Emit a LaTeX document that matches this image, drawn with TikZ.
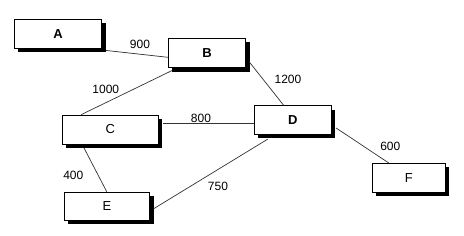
\documentclass[tikz,border=0pt]{standalone}
\usepackage{fontspec}
\setmainfont{Liberation Sans}
\usetikzlibrary{shadows}
\begin{document}
\begin{tikzpicture}[x=1pt,y=-1pt,
  box/.style={draw=black, line width=0.8pt, fill=white, inner sep=0pt,
    drop shadow={shadow xshift=4pt, shadow yshift=-4pt, fill=black, opacity=1},
    font=\fontsize{13}{15}\selectfont},
  boldbox/.style={box, font=\fontsize{13}{15}\selectfont\bfseries},
  edge/.style={draw=black!80, line width=0.7pt},
  lbl/.style={font=\fontsize{12}{14}\selectfont, inner sep=0pt}]
\useasboundingbox (0,0) rectangle (464,236);
\fill[white] (0,0) rectangle (464,236);
\node[boldbox, minimum width=87.4pt, minimum height=29pt] (A) at (58,33.8) {A};
\node[boldbox, minimum width=77.4pt, minimum height=29.4pt] (B) at (207,53) {B};
\node[box, minimum width=96pt, minimum height=29pt] (C) at (110.3,129.5) {C};
\node[boldbox, minimum width=77pt, minimum height=28.3pt] (D) at (292.8,119.9) {D};
\node[box, minimum width=85.4pt, minimum height=28.3pt] (E) at (107,206.2) {E};
\node[box, minimum width=73pt, minimum height=28.7pt] (F) at (408.8,177.7) {F};
\draw[edge] ([shift={(3.6pt,-1.7pt)}]A.south east) -- ([yshift=-4.3pt]B.west);
\draw[edge] ([shift={(4.4pt,-2.3pt)}]B.south west) -- ([xshift=19.4pt]C.north west);
\draw[edge] ([shift={(3pt,-8.7pt)}]B.east) -- ([xshift=-9.1pt]D.north);
\draw[edge] ([shift={(4.7pt,5.8pt)}]C.east) -- ([yshift=-3.8pt]D.west);
\draw[edge] ([shift={(-26.3pt,-3.5pt)}]C.south) -- ([xshift=-0.3pt]E.north);
\draw[edge] ([shift={(3.6pt,-2.5pt)}]E.east) -- ([shift={(-25.1pt,-4.7pt)}]D.south);
\draw[edge] ([shift={(4.4pt,-8.1pt)}]D.east) -- ([xshift=-20.1pt]F.north);
\node[lbl] (l900) at (140,44.5) {900};
\node[lbl] (l1000) at (105.8,89.7) {1000};
\node[lbl] (l1200) at (288,79.5) {1200};
\node[lbl] (l800) at (201,118.5) {800};
\node[lbl] (l400) at (73.3,175.5) {400};
\node[lbl] (l750) at (218,186) {750};
\node[lbl] (l600) at (390.3,146.3) {600};
\end{tikzpicture}
\end{document}
